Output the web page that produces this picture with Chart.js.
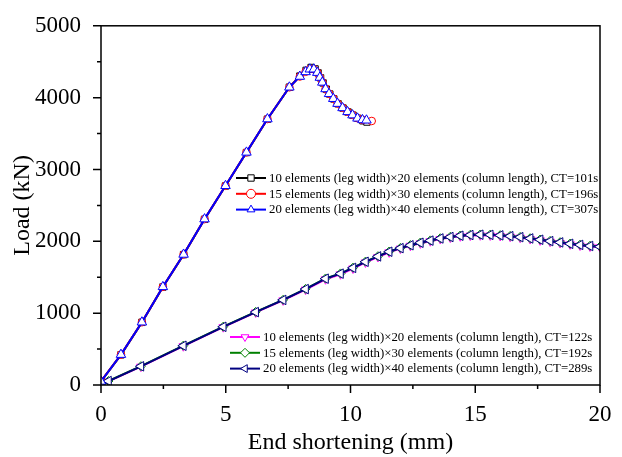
<!DOCTYPE html>
<html>
<head>
<meta charset="utf-8">
<script src="https://cdn.jsdelivr.net/npm/chart.js@4.4.1/dist/chart.umd.min.js"></script>
<style>
  html, body { margin: 0; padding: 0; background: #fff; }
  #wrap { width: 622px; height: 457px; }
</style>
</head>
<body>
<div id="wrap"><canvas id="chart" width="622" height="457"></canvas></div>
<script>
// legs: upper curves
const leg10X = [0, 0.8, 1.64, 2.48, 3.31, 4.15, 4.99, 5.83, 6.67, 7.55, 7.97, 8.22, 8.42, 8.58, 8.7, 8.8, 8.9, 9.03, 9.17, 9.33, 9.5, 9.7, 9.9, 10.1, 10.3, 10.5, 10.66];
const leg10Y = [50, 420, 872, 1364, 1815, 2306, 2770, 3236, 3700, 4146, 4300, 4380, 4420, 4400, 4345, 4275, 4205, 4118, 4050, 3982, 3915, 3855, 3800, 3755, 3712, 3678, 3660];
const leg15X = [0, 0.8, 1.64, 2.48, 3.31, 4.15, 4.99, 5.83, 6.67, 7.55, 7.97, 8.2, 8.37, 8.53, 8.67, 8.77, 8.87, 9.0, 9.14, 9.31, 9.48, 9.68, 9.88, 10.08, 10.28, 10.48, 10.85];
const leg15Y = [55, 423, 874, 1366, 1817, 2309, 2773, 3238, 3702, 4144, 4294, 4360, 4398, 4395, 4350, 4282, 4214, 4123, 4055, 3987, 3919, 3859, 3804, 3759, 3714, 3690, 3675];
const leg20X = [0, 0.8, 1.64, 2.48, 3.31, 4.15, 4.99, 5.83, 6.67, 7.55, 7.97, 8.2, 8.37, 8.53, 8.67, 8.77, 8.87, 9.0, 9.14, 9.31, 9.48, 9.68, 9.88, 10.08, 10.28, 10.48, 10.64];
const leg20Y = [50, 423, 874, 1366, 1817, 2309, 2773, 3238, 3702, 4144, 4294, 4358, 4395, 4395, 4348, 4280, 4212, 4121, 4053, 3985, 3917, 3857, 3802, 3757, 3712, 3690, 3685];

// columns: lower curves
const col10X = [0, 0.3, 1.6, 3.3, 4.9, 6.2, 7.3, 8.2, 9.0, 9.6, 10.1, 10.6, 11.1, 11.55, 12.0, 12.4, 12.8, 13.2, 13.6, 14.0, 14.4, 14.8, 15.2, 15.6, 16.0, 16.4, 16.8, 17.2, 17.6, 18.0, 18.4, 18.8, 19.2, 19.6, 20.0];
const col10Y = [0, 50, 255, 540, 805, 1010, 1178, 1328, 1472, 1542, 1622, 1706, 1782, 1847, 1898, 1938, 1972, 2002, 2032, 2052, 2070, 2080, 2084, 2082, 2075, 2064, 2050, 2032, 2014, 1995, 1977, 1958, 1942, 1928, 1918];
const col15X = [0, 0.3, 1.6, 3.3, 4.9, 6.2, 7.3, 8.2, 9.0, 9.6, 10.1, 10.6, 11.1, 11.55, 12.0, 12.4, 12.8, 13.2, 13.6, 14.0, 14.4, 14.8, 15.2, 15.6, 16.0, 16.4, 16.8, 17.2, 17.6, 18.0, 18.4, 18.8, 19.2, 19.6, 20.0];
const col15Y = [0, 56, 262, 548, 812, 1018, 1186, 1338, 1483, 1553, 1633, 1718, 1793, 1858, 1908, 1948, 1983, 2013, 2043, 2063, 2081, 2091, 2095, 2093, 2086, 2075, 2061, 2043, 2025, 2006, 1988, 1968, 1953, 1938, 1928];
const col20X = [0, 0.3, 1.6, 3.3, 4.9, 6.2, 7.3, 8.2, 9.0, 9.6, 10.1, 10.6, 11.1, 11.55, 12.0, 12.4, 12.8, 13.2, 13.6, 14.0, 14.4, 14.8, 15.2, 15.6, 16.0, 16.4, 16.8, 17.2, 17.6, 18.0, 18.4, 18.8, 19.2, 19.6, 20.0];
const col20Y = [0, 55, 260, 546, 810, 1015, 1184, 1335, 1480, 1550, 1630, 1715, 1790, 1855, 1905, 1945, 1980, 2010, 2040, 2060, 2078, 2088, 2092, 2090, 2083, 2072, 2058, 2040, 2022, 2003, 1985, 1965, 1950, 1935, 1925];

const labels = [
  "10 elements (leg width)\u00d720 elements (column length), CT=101s",
  "15 elements (leg width)\u00d730 elements (column length), CT=196s",
  "20 elements (leg width)\u00d740 elements (column length), CT=307s",
  "10 elements (leg width)\u00d720 elements (column length), CT=122s",
  "15 elements (leg width)\u00d730 elements (column length), CT=192s",
  "20 elements (leg width)\u00d740 elements (column length), CT=289s"
];

const xTicks = [0, 5, 10, 15, 20];
const yTicks = [0, 1000, 2000, 3000, 4000, 5000];

const serif = "'Liberation Serif', 'Times New Roman', serif";

const pts = (xs, ys) => xs.map((x, i) => ({ x: x, y: ys[i] }));

const series = (label, xs, ys, color, style, rotation, radius, order) => ({
  label: label,
  data: pts(xs, ys),
  showLine: true,
  borderColor: color,
  borderWidth: 2,
  pointStyle: style,
  pointRotation: rotation,
  pointRadius: radius,
  pointBorderWidth: 1,
  pointBorderColor: color,
  pointBackgroundColor: "#ffffff",
  order: order,
});

// lower order is drawn on top: blue and navy last
const datasets = [
  series(labels[0], leg10X, leg10Y, "#000000", "rect", 0, 4.5, 2),
  series(labels[1], leg15X, leg15Y, "#ff0000", "circle", 0, 3.8, 1),
  series(labels[2], leg20X, leg20Y, "#0000ff", "triangle", 0, 5.5, 0),
  series(labels[3], col10X, col10Y, "#ff00ff", "triangle", 180, 5, 2),
  series(labels[4], col15X, col15Y, "#008000", "rectRot", 0, 4.5, 1),
  series(labels[5], col20X, col20Y, "#000080", "triangle", 270, 5.5, 0),
];

// box frame plus major/minor ticks pointing outward
const framePlugin = {
  id: "frame",
  afterDatasetsDraw(chart) {
    const { ctx, chartArea: a, scales } = chart;
    ctx.save();
    ctx.strokeStyle = "#000";
    ctx.lineWidth = 1.5;
    ctx.strokeRect(a.left, a.top, a.right - a.left, a.bottom - a.top);
    ctx.beginPath();
    for (let v = 0; v <= 20; v += 2.5) {
      const px = scales.x.getPixelForValue(v);
      const len = v % 5 === 0 ? 8 : 4;
      ctx.moveTo(px, a.bottom);
      ctx.lineTo(px, a.bottom + len);
    }
    for (let v = 0; v <= 5000; v += 500) {
      const py = scales.y.getPixelForValue(v);
      const len = v % 1000 === 0 ? 8 : 4;
      ctx.moveTo(a.left, py);
      ctx.lineTo(a.left - len, py);
    }
    ctx.stroke();
    ctx.restore();
  },
};

// two borderless legends inside the plot
const legendPlugin = {
  id: "twoLegends",
  afterDraw(chart) {
    const ctx = chart.ctx;
    const groups = [
      { x: 236, y: 178, idx: [0, 1, 2] },
      { x: 230, y: 337, idx: [3, 4, 5] },
    ];
    ctx.save();
    groups.forEach((g) => {
      g.idx.forEach((di, row) => {
        const ds = chart.data.datasets[di];
        const cy = g.y + row * 15.8;
        ctx.strokeStyle = ds.borderColor;
        ctx.lineWidth = 2;
        ctx.beginPath();
        ctx.moveTo(g.x, cy);
        ctx.lineTo(g.x + 30, cy);
        ctx.stroke();
        ctx.fillStyle = "#fff";
        ctx.lineWidth = 1;
        Chart.helpers.drawPoint(ctx, {
          pointStyle: ds.pointStyle,
          radius: 4.5,
          rotation: ds.pointRotation,
          borderWidth: 1,
        }, g.x + 15, cy);
        ctx.fillStyle = "#000";
        ctx.font = "12.8px " + serif;
        ctx.textBaseline = "middle";
        ctx.fillText(ds.label, g.x + 33, cy + 0.5);
      });
    });
    ctx.restore();
  },
};

new Chart(document.getElementById("chart"), {
  type: "scatter",
  data: { datasets: datasets },
  options: {
    responsive: false,
    animation: false,
    layout: { padding: { top: 19, right: 22, left: 0, bottom: 0 } },
    scales: {
      x: {
        type: "linear",
        min: 0,
        max: 20,
        afterFit: (s) => { s.height = 72; },
        afterBuildTicks: (s) => { s.ticks = xTicks.map((v) => ({ value: v })); },
        grid: { display: false },
        border: { display: false },
        ticks: { color: "#000", padding: 8, maxRotation: 0, font: { family: serif, size: 23 }, callback: (v) => String(v) },
        title: {
          display: true,
          text: "End shortening (mm)",
          color: "#000",
          padding: { top: 0, bottom: 0 },
          font: { family: serif, size: 24 },
        },
      },
      y: {
        min: 0,
        max: 5000,
        afterFit: (s) => { s.width = 101; },
        afterBuildTicks: (s) => { s.ticks = yTicks.map((v) => ({ value: v })); },
        grid: { display: false },
        border: { display: false },
        ticks: { color: "#000", padding: 12, font: { family: serif, size: 23 }, callback: (v) => String(v) },
        title: {
          display: true,
          text: "Load (kN)",
          color: "#000",
          padding: { top: 8, bottom: 0 },
          font: { family: serif, size: 24 },
        },
      },
    },
    plugins: {
      legend: { display: false },
      tooltip: { enabled: false },
    },
  },
  plugins: [framePlugin, legendPlugin],
});
</script>
</body>
</html>
